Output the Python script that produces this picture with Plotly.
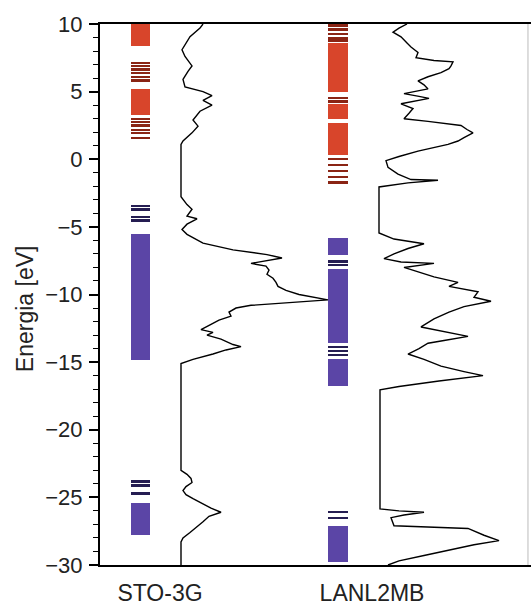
import plotly.graph_objects as go

# ---------------- data ----------------
methods = ["STO-3G", "LANL2MB"]

# energy-level bands (dense manifolds) [low, high] in eV
sto_unocc_bands_lo = [8.35, 3.25]
sto_unocc_bands_hi = [10.0, 5.2]
sto_unocc_levels = [7.15, 6.9, 6.65, 6.4, 6.1, 5.85, 3.0, 2.75, 2.5, 2.2, 1.95, 1.6]
sto_occ_bands_lo = [-14.85, -27.8]
sto_occ_bands_hi = [-5.55, -25.4]
sto_occ_levels = [-3.45, -3.7, -4.25, -4.5, -23.8, -24.1, -24.7]

lan_unocc_bands_lo = [5.0, 3.0, 0.35]
lan_unocc_bands_hi = [8.6, 4.05, 2.7]
lan_unocc_levels = [9.9, 9.6, 9.3, 9.0, 8.8, 4.55, 4.3, 0.05, -0.4, -0.85, -1.3, -1.7]
lan_occ_bands_lo = [-7.1, -13.6, -16.8, -29.8]
lan_occ_bands_hi = [-5.8, -8.1, -14.75, -27.1]
lan_occ_levels = [-7.55, -7.8, -13.85, -14.15, -14.45, -26.05, -26.5]

# density of states curves (energy, intensity)
sto_E = [10.0, 9.7, 9.06, 8.1, 7.6, 6.9, 6.5, 5.9, 5.35, 5.0, 4.7, 4.35, 4.0, 3.55,
         2.9, 2.45, 1.95, 1.35, 1.1, -2.77, -3.35, -3.7, -4.2, -4.4, -4.8, -5.2,
         -5.55, -6.2, -6.7, -7.05, -7.3, -7.55, -7.7, -7.9, -8.2, -8.5, -8.8, -9.1,
         -9.4, -9.7, -10.0, -10.4, -10.6, -10.8, -11.0, -11.3, -11.6, -11.9, -12.2,
         -12.6, -12.8, -13.0, -13.3, -13.7, -13.85, -14.1, -14.4, -14.8, -15.1,
         -23.0, -23.3, -23.6, -23.9, -24.2, -24.5, -24.8, -25.1, -25.4, -25.8,
         -26.1, -26.4, -26.8, -27.2, -27.6, -28.0, -28.3, -30.0]
sto_dos = [22, 19, 9, 1, 4, 11, 7, 2, 4, 22, 31, 22, 31, 19,
           12, 17, 11, 2, 0, 0, 6, 11, 6, 16, 6, 1,
           6, 22, 52, 86, 101, 80, 70, 85, 88, 86, 92, 95,
           97, 105, 118, 147, 110, 70, 55, 48, 50, 38, 30,
           20, 32, 26, 40, 52, 60, 45, 32, 12, 0,
           0, 6, 10, 11, 5, 2, 5, 12, 20, 30,
           40, 28, 22, 16, 9, 2, 0, 0]

lan_E = [10.0, 9.7, 9.4, 9.05, 8.6, 8.3, 7.9, 7.5, 7.3, 7.2, 6.9, 6.7, 6.4, 6.1,
         5.8, 5.5, 5.2, 4.85, 4.65, 4.5, 4.1, 3.75, 3.4, 3.0, 2.8, 2.5, 2.2, 1.95,
         1.6, 1.35, 1.1, 0.6, 0.2, -0.1, -0.6, -1.1, -1.5, -1.55, -1.75, -2.05,
         -5.45, -5.9, -6.25, -6.6, -7.0, -7.35, -7.6, -7.7, -8.0, -8.35, -8.7,
         -9.1, -9.4, -9.8, -10.2, -10.5, -10.9, -11.3, -11.8, -12.4, -12.8, -13.1,
         -13.4, -13.6, -14.0, -14.4, -14.8, -15.3, -15.7, -16.0, -16.4, -16.8,
         -17.05, -25.85, -26.0, -26.1, -26.3, -26.5, -27.1, -27.3, -27.8, -28.2,
         -28.5, -28.8, -29.3, -29.7, -30.0]
lan_dos = [28, 20, 14, 22, 28, 32, 39, 37, 55, 74, 72, 70, 62, 49,
           39, 45, 49, 25, 40, 50, 22, 34, 30, 25, 49, 82, 88, 94,
           85, 79, 69, 39, 20, 7, 9, 19, 32, 59, 29, 0,
           0, 15, 45, 29, 15, 5, 22, 55, 25, 39, 55,
           79, 70, 99, 95, 112, 85, 70, 55, 42, 70, 89,
           65, 49, 40, 29, 45, 62, 85, 104, 60, 20,
           1, 1, 20, 45, 25, 12, 15, 89, 105, 120,
           95, 75, 45, 20, 9]

y_ticks = [-30, -25, -20, -15, -10, -5, 0, 5, 10]

# ---------------- styling / positions ----------------
RED = "#d8452b"
RED_DARK = "#8a2414"
BLUE = "#5b45a6"
BLUE_DARK = "#251d52"
LEVEL_H = 0.14
cols = {"STO-3G": dict(bar=40.5, w=19, base=81, tick=60),
        "LANL2MB": dict(bar=238, w=20, base=279, tick=272)}

fig = go.Figure()


def add_bands(center, width, lo, hi, color):
    fig.add_trace(go.Bar(x=[center] * len(lo), y=[h - l for l, h in zip(lo, hi)],
                         base=lo, width=width, marker=dict(color=color, line=dict(width=0)),
                         showlegend=False, hoverinfo="skip"))


def add_levels(center, width, levels, color):
    fig.add_trace(go.Bar(x=[center] * len(levels), y=[LEVEL_H] * len(levels),
                         base=[e - LEVEL_H / 2 for e in levels], width=width,
                         marker=dict(color=color, line=dict(width=0)),
                         showlegend=False, hoverinfo="skip"))


c = cols["STO-3G"]
add_bands(c["bar"], c["w"], sto_unocc_bands_lo, sto_unocc_bands_hi, RED)
add_levels(c["bar"], c["w"], sto_unocc_levels, RED_DARK)
add_bands(c["bar"], c["w"], sto_occ_bands_lo, sto_occ_bands_hi, BLUE)
add_levels(c["bar"], c["w"], sto_occ_levels, BLUE_DARK)
fig.add_trace(go.Scatter(x=[c["base"] + v for v in sto_dos], y=sto_E, mode="lines",
                         line=dict(color="black", width=1.4), showlegend=False))

c = cols["LANL2MB"]
add_bands(c["bar"], c["w"], lan_unocc_bands_lo, lan_unocc_bands_hi, RED)
add_levels(c["bar"], c["w"], lan_unocc_levels, RED_DARK)
add_bands(c["bar"], c["w"], lan_occ_bands_lo, lan_occ_bands_hi, BLUE)
add_levels(c["bar"], c["w"], lan_occ_levels, BLUE_DARK)
fig.add_trace(go.Scatter(x=[c["base"] + v for v in lan_dos], y=lan_E, mode="lines",
                         line=dict(color="black", width=1.4), showlegend=False))

fig.update_layout(
    width=531, height=606,
    margin=dict(l=100, r=0, t=24, b=31),
    paper_bgcolor="white", plot_bgcolor="white",
    barmode="overlay", bargap=0,
    font=dict(family="Liberation Sans, Arial, sans-serif", color="#222"),
    xaxis=dict(range=[0, 431], showgrid=False, zeroline=False,
               tickmode="array", tickvals=[cols[m]["tick"] for m in methods],
               ticktext=methods, ticks="", tickfont=dict(size=23),
               showline=True, linecolor="black", linewidth=2, mirror=True,
               ticklabelstandoff=6),
    yaxis=dict(range=[-30, 10], showgrid=False, zeroline=False,
               tickmode="array", tickvals=y_ticks, ticks="outside", ticklen=9,
               tickwidth=1.5, tickcolor="black", tickfont=dict(size=22),
               showline=True, linecolor="black", linewidth=2,
               minor=dict(dtick=1, ticks="outside", ticklen=5, tickwidth=1.3,
                          tickcolor="black", showgrid=False),
               ticklabelstandoff=2),
    annotations=[dict(text="Energia [eV]", textangle=-90, xref="paper", yref="paper",
                      x=-0.175, y=0.474, xanchor="center", yanchor="middle",
                      showarrow=False, font=dict(size=23, color="#222"))],
    shapes=[dict(type="line", xref="paper", yref="paper", x0=0.993, x1=0.993, y0=0, y1=1,
                 line=dict(color="#bbbbbb", width=1))],
)

fig.write_html("out.html")
